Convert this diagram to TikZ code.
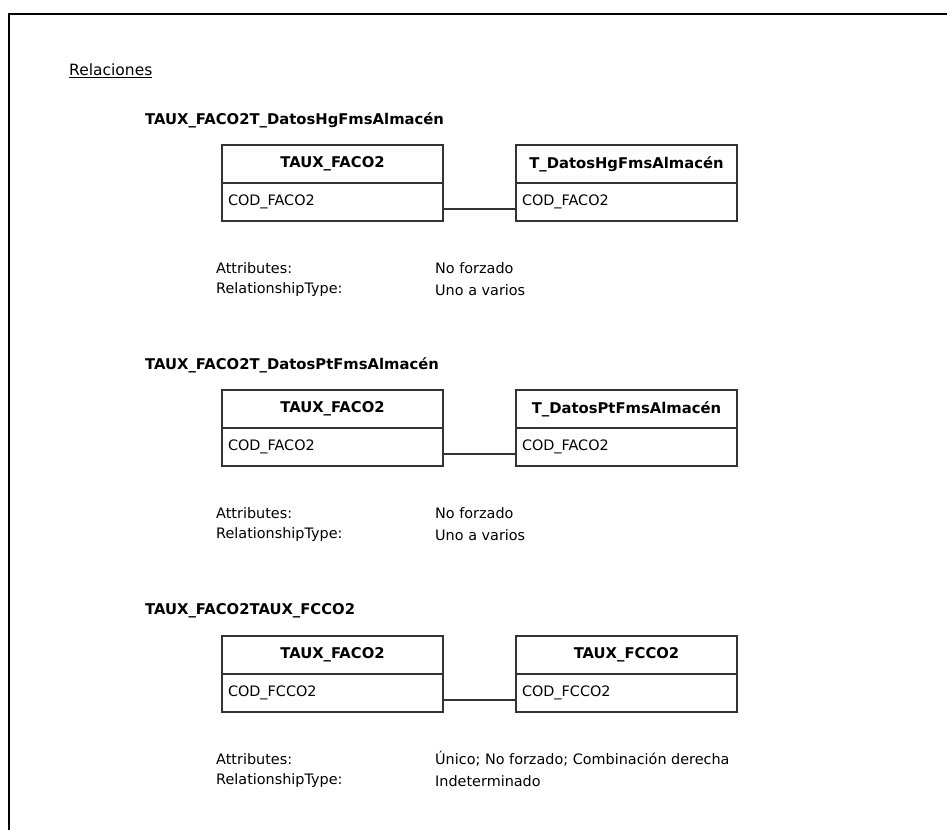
\documentclass[tikz,border=0pt]{standalone}
\usepackage{fontspec}
\setmainfont{DejaVu Sans}
\usetikzlibrary{positioning}
\newcommand{\txtfont}{\fontsize{14.4}{17}\selectfont}
\newcommand{\boldfont}{\fontsize{14.8}{17}\selectfont\bfseries}
\tikzset{
  pageframe/.style={line width=2pt,black},
  reltitle/.style={anchor=west,font=\boldfont,inner sep=0pt},
  tblhead/.style={draw=black!80,line width=1.2pt,outer sep=0pt,
    minimum width=221pt,minimum height=38pt,inner sep=0pt,
    font=\boldfont,anchor=north west},
  tblbody/.style={draw=black!80,line width=1.2pt,outer sep=0pt,
    text width=209pt,inner xsep=6pt,inner ysep=0pt,minimum height=38pt,
    align=left,font=\txtfont},
  reledge/.style={line width=1.2pt,black!80},
  proplbl/.style={anchor=west,inner sep=0pt,font=\txtfont},
}

\begin{document}
\begin{tikzpicture}[x=1pt,y=-1pt]
  \useasboundingbox (0,0) rectangle (947,830);
  % ---- page border (only top and left visible) ----
  \coordinate (pgtl) at (9,14);
  \coordinate (pgtr) at (947,14);
  \coordinate (pgbl) at (9,830);
  \draw[pageframe] (pgtr) -- (pgtl) -- (pgbl);
  \node[proplbl,font=\fontsize{15.5}{18}\selectfont] (hdr) at (69,71) {\underline{Relaciones}};
  % ---- relation 1 ----
  \begin{scope}
    \node[reltitle] (t1) at (145,120) {TAUX\_FACO2T\_DatosHgFmsAlmacén};
    \node[tblhead] (lh1) at (222,145) {TAUX\_FACO2};
    \node[tblbody,below=0pt of lh1] (lb1) {COD\_FACO2};
    \node[tblhead] (rh1) at (516,145) {T\_DatosHgFmsAlmacén};
    \node[tblbody,below=0pt of rh1] (rb1) {COD\_FACO2};
    \draw[reledge] ([yshift=-7pt]lb1.east) -- ([yshift=-7pt]rb1.west);
    \node[proplbl] (a1) at (216,268) {Attributes:};
    \node[proplbl] (av1) at (435,268) {No forzado};
    \node[proplbl] (r1) at (216,290) {RelationshipType:};
    \node[proplbl] (rv1) at (435,290) {Uno a varios};
  \end{scope}
  % ---- relation 2 ----
  \begin{scope}[yshift=-245pt]
    \node[reltitle] (t2) at (145,120) {TAUX\_FACO2T\_DatosPtFmsAlmacén};
    \node[tblhead] (lh2) at (222,145) {TAUX\_FACO2};
    \node[tblbody,below=0pt of lh2] (lb2) {COD\_FACO2};
    \node[tblhead] (rh2) at (516,145) {T\_DatosPtFmsAlmacén};
    \node[tblbody,below=0pt of rh2] (rb2) {COD\_FACO2};
    \draw[reledge] ([yshift=-7pt]lb2.east) -- ([yshift=-7pt]rb2.west);
    \node[proplbl] (a2) at (216,268) {Attributes:};
    \node[proplbl] (av2) at (435,268) {No forzado};
    \node[proplbl] (r2) at (216,290) {RelationshipType:};
    \node[proplbl] (rv2) at (435,290) {Uno a varios};
  \end{scope}
  % ---- relation 3 ----
  \begin{scope}[yshift=-491pt]
    \node[reltitle] (t3) at (145,120) {TAUX\_FACO2TAUX\_FCCO2};
    \node[tblhead] (lh3) at (222,145) {TAUX\_FACO2};
    \node[tblbody,below=0pt of lh3] (lb3) {COD\_FCCO2};
    \node[tblhead] (rh3) at (516,145) {TAUX\_FCCO2};
    \node[tblbody,below=0pt of rh3] (rb3) {COD\_FCCO2};
    \draw[reledge] ([yshift=-7pt]lb3.east) -- ([yshift=-7pt]rb3.west);
    \node[proplbl] (a3) at (216,268) {Attributes:};
    \node[proplbl] (av3) at (435,268) {Único; No forzado; Combinación derecha};
    \node[proplbl] (r3) at (216,290) {RelationshipType:};
    \node[proplbl] (rv3) at (435,290) {Indeterminado};
  \end{scope}
\end{tikzpicture}
\end{document}
